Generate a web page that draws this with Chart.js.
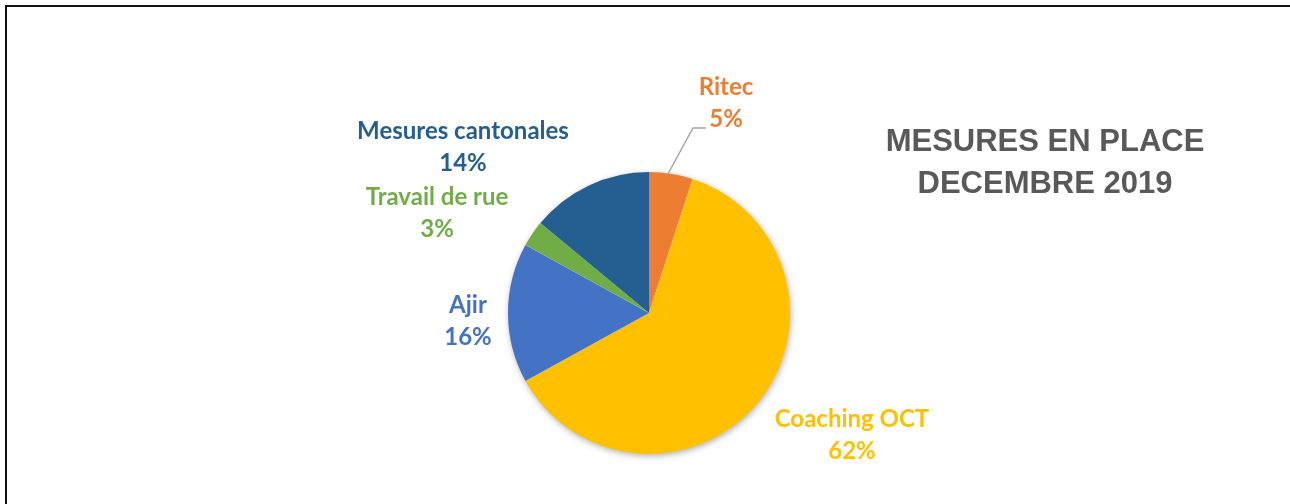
<!DOCTYPE html>
<html>
<head>
<meta charset="utf-8">
<title>Mesures en place - décembre 2019</title>
<script src="https://cdn.jsdelivr.net/npm/chart.js@4/dist/chart.umd.min.js"></script>
<style>
    body { margin: 0; background: #fff; }
    #wrap { position: relative; width: 1290px; height: 504px; overflow: hidden; }
    #frame {
        position: absolute; left: 5px; top: 5px; width: 2000px; height: 1000px;
        border-top: 2px solid #111; border-left: 2px solid #111;
    }
    canvas { position: absolute; left: 0; top: 0; }
</style>
</head>
<body>
<div id="wrap">
    <div id="frame"></div>
    <canvas id="pieGraph" width="1290" height="504"></canvas>
</div>
<script>
// categories and shares (%), clockwise from the top
const categories = ['Ritec', 'Coaching OCT', 'Ajir', 'Travail de rue', 'Mesures cantonales'];
const shares     = [5, 62, 16, 3, 14];
const colors     = ['#ED7D31', '#FFC000', '#4472C4', '#70AD47', '#255E91'];
const titleLines = ['MESURES EN PLACE', 'DECEMBRE 2019'];

// label placement, relative to the pie centre (baseline of the first line)
const labelOffsets = [
    { dx: 77,   dy: -218, leader: true },
    { dx: 203,  dy: 114 },
    { dx: -181, dy: 0 },
    { dx: -212, dy: -108 },
    { dx: -186, dy: -174 }
];

const LABEL_FONT = 'bold 24px Lato';
const LINE_GAP = 32;

// soft shadow behind the whole pie
const pieShadow = {
    id: 'pieShadow',
    beforeDatasetsDraw(chart) {
        const arc = chart.getDatasetMeta(0).data[0];
        if (!arc) return;
        const ctx = chart.ctx;
        ctx.save();
        ctx.shadowColor = 'rgba(0,0,0,0.35)';
        ctx.shadowBlur = 7;
        ctx.shadowOffsetX = 1;
        ctx.shadowOffsetY = 2;
        ctx.fillStyle = '#fff';
        ctx.beginPath();
        ctx.arc(arc.x, arc.y, arc.outerRadius - 0.5, 0, Math.PI * 2);
        ctx.fill();
        ctx.restore();
    }
};

// category name + percentage next to each slice
const sliceLabels = {
    id: 'sliceLabels',
    afterDatasetsDraw(chart) {
        const ctx = chart.ctx;
        const arcs = chart.getDatasetMeta(0).data;
        ctx.save();
        ctx.font = LABEL_FONT;
        ctx.textAlign = 'center';
        ctx.textBaseline = 'alphabetic';
        arcs.forEach((arc, i) => {
            const off = labelOffsets[i];
            const x = arc.x + off.dx;
            const y = arc.y + off.dy;
            ctx.fillStyle = colors[i];
            ctx.fillText(categories[i], x, y);
            ctx.fillText(shares[i] + '%', x, y + LINE_GAP);

            if (off.leader) {
                // leader line from the slice edge to the label
                const mid = (arc.startAngle + arc.endAngle) / 2;
                const sx = arc.x + Math.cos(mid) * arc.outerRadius;
                const sy = arc.y + Math.sin(mid) * arc.outerRadius;
                const ly = y + LINE_GAP + 1;
                const lx = x - 20;
                ctx.strokeStyle = '#a6a6a6';
                ctx.lineWidth = 1.5;
                ctx.beginPath();
                ctx.moveTo(sx - 3, sy);
                ctx.lineTo(lx - 13, ly);
                ctx.lineTo(lx, ly);
                ctx.stroke();
            }
        });
        ctx.restore();
    }
};

// title block on the right
const sideTitle = {
    id: 'sideTitle',
    afterDraw(chart) {
        const ctx = chart.ctx;
        ctx.save();
        ctx.font = 'bold 31px "Liberation Sans", Arial, sans-serif';
        ctx.fillStyle = '#595959';
        ctx.textAlign = 'center';
        ctx.textBaseline = 'alphabetic';
        titleLines.forEach((line, i) => {
            ctx.fillText(line, 1045, 151 + i * 42);
        });
        ctx.restore();
    }
};

const ctx = document.getElementById('pieGraph').getContext('2d');
const chart = new Chart(ctx, {
    type: 'pie',
    data: {
        labels: categories,
        datasets: [{
            data: shares,
            backgroundColor: colors,
            borderWidth: 0
        }]
    },
    options: {
        responsive: false,
        animation: false,
        layout: {
            padding: { top: 172, bottom: 50, left: 449, right: 441 }
        },
        plugins: {
            legend: { display: false },
            tooltip: { enabled: false },
            title: { display: false }
        }
    },
    plugins: [pieShadow, sliceLabels, sideTitle]
});
</script>
</body>
</html>
